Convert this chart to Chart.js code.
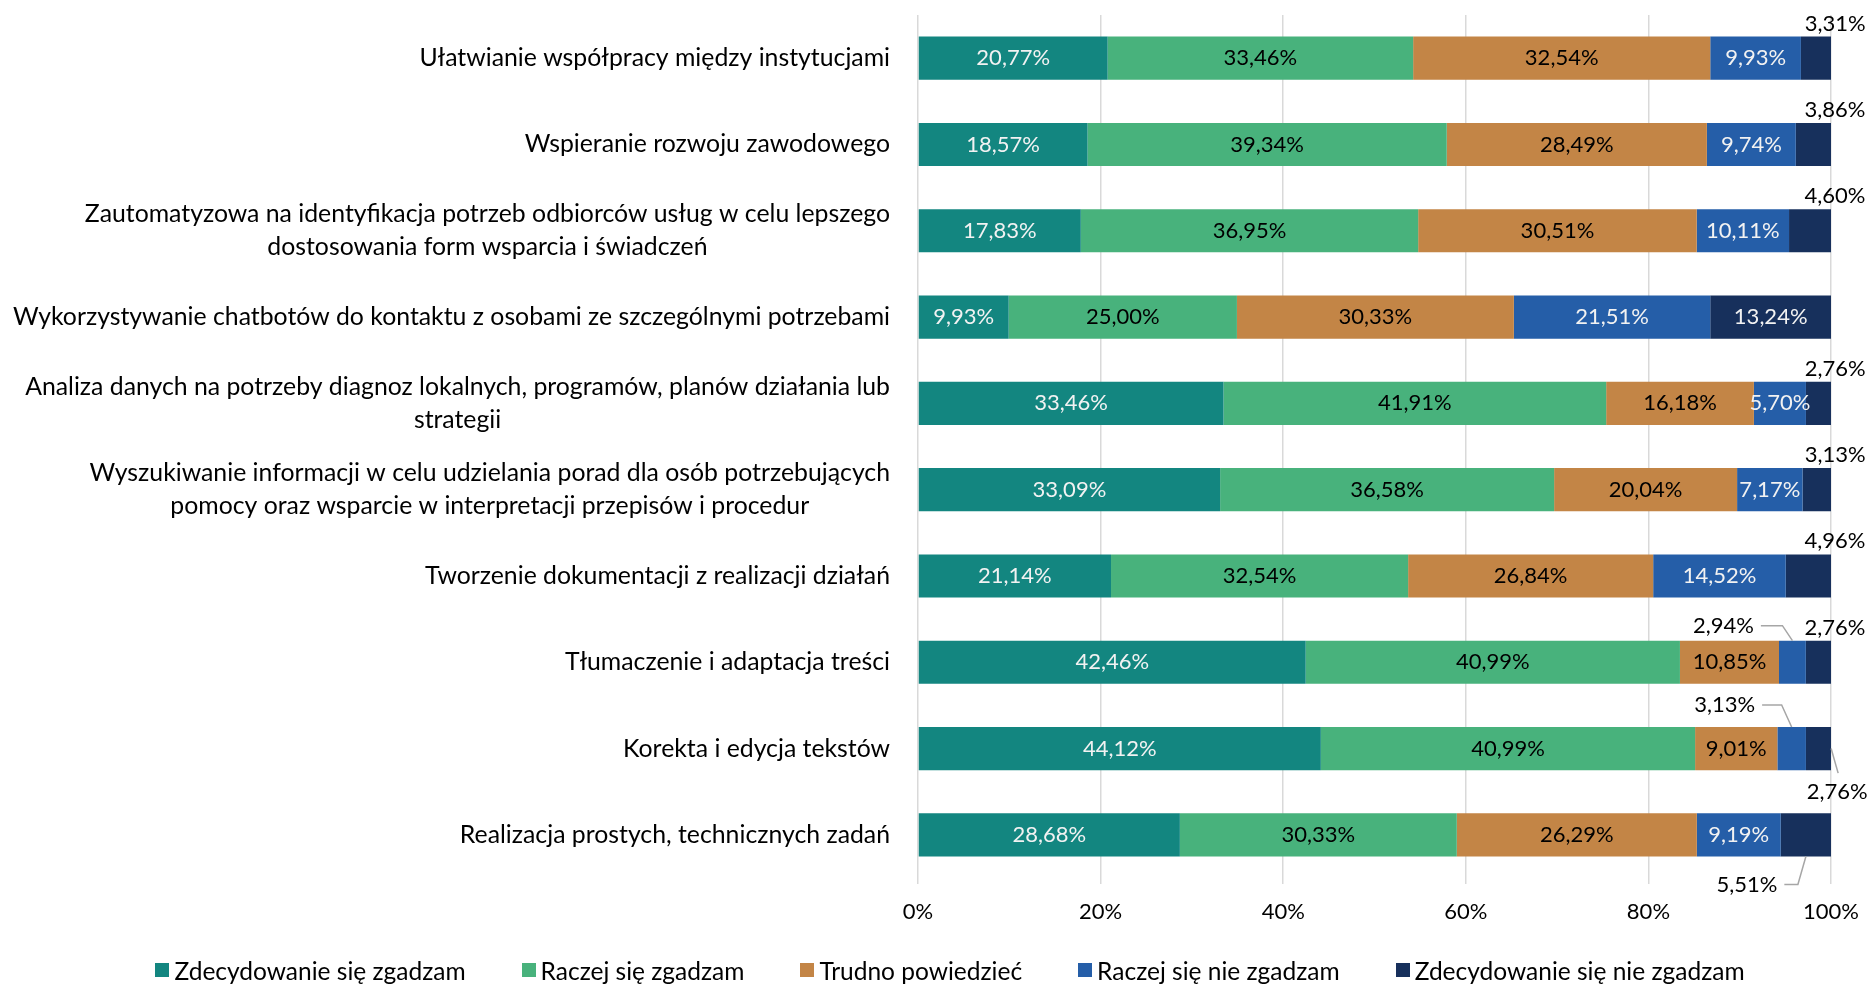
<!DOCTYPE html>
<html>
<head>
<meta charset="utf-8">
<script src="https://cdn.jsdelivr.net/npm/chart.js@4.4.1/dist/chart.umd.min.js"></script>
<style>
  html, body { margin: 0; padding: 0; background: #fff; }
  #wrap { position: relative; width: 1874px; height: 986px; }
  canvas { display: block; }
  #legend {
    position: absolute; left: 26px; right: 0; top: 956px; height: 28px;
    display: flex; justify-content: center; align-items: center; gap: 56px;
    font: 24.5px Lato, "Open Sans", sans-serif; color: #000; white-space: nowrap;
  }
  #legend .item { display: flex; align-items: center; }
  #legend .box { width: 14px; height: 14px; margin-right: 5px; }
</style>
</head>
<body>
<div id="wrap">
  <canvas id="chart" width="1874" height="986"></canvas>
  <div id="legend"></div>
</div>
<script>
// kategorie (wiele linii = tablica)
const categories = [
    ['Ułatwianie współpracy między instytucjami'],
    ['Wspieranie rozwoju zawodowego'],
    ['Zautomatyzowa na identyfikacja potrzeb odbiorców usług w celu lepszego', 'dostosowania form wsparcia i świadczeń'],
    ['Wykorzystywanie chatbotów do kontaktu z osobami ze szczególnymi potrzebami'],
    ['Analiza danych na potrzeby diagnoz lokalnych, programów, planów działania lub', 'strategii'],
    ['Wyszukiwanie informacji w celu udzielania porad dla osób potrzebujących', 'pomocy oraz wsparcie w interpretacji przepisów i procedur'],
    ['Tworzenie dokumentacji z realizacji działań'],
    ['Tłumaczenie i adaptacja treści'],
    ['Korekta i edycja tekstów'],
    ['Realizacja prostych, technicznych zadań']
];

const seriesNames = ['Zdecydowanie się zgadzam', 'Raczej się zgadzam', 'Trudno powiedzieć', 'Raczej się nie zgadzam', 'Zdecydowanie się nie zgadzam'];

const zdecydowanieTak = [20.77, 18.57, 17.83, 9.93, 33.46, 33.09, 21.14, 42.46, 44.12, 28.68];
const raczejTak       = [33.46, 39.34, 36.95, 25.00, 41.91, 36.58, 32.54, 40.99, 40.99, 30.33];
const trudno          = [32.54, 28.49, 30.51, 30.33, 16.18, 20.04, 26.84, 10.85, 9.01, 26.29];
const raczejNie       = [9.93, 9.74, 10.11, 21.51, 5.70, 7.17, 14.52, 2.94, 3.13, 9.19];
const zdecydowanieNie = [3.31, 3.86, 4.60, 13.24, 2.76, 3.13, 4.96, 2.76, 2.76, 5.51];

const xTicks = [0, 20, 40, 60, 80, 100];

const colors = ['#138680', '#48b27c', '#c38546', '#255ea8', '#17305c'];
const labelColors = ['#f2f2f2', '#000000', '#000000', '#f2f2f2', '#f2f2f2'];
const FONT = 'Lato, "Open Sans", sans-serif';

function fmt(v) { return v.toFixed(2).replace('.', ',') + '%'; }

// etykiety z liniami odniesienia dla małych wartości (klucz: seria:wiersz)
const callouts = {
    '3:7': { type: 'left-top', dx: -69, dy: -15 },
    '3:8': { type: 'left-top', dx: -67, dy: -22 },
    '4:8': { type: 'below-right' },
    '4:9': { type: 'left-bottom', dx: -59, dy: 28 }
};

const categoryLabels = {
    id: 'categoryLabels',
    afterDraw(chart) {
        const ctx = chart.ctx;
        const yScale = chart.scales.y;
        const right = 890;
        ctx.save();
        ctx.font = '24.8px ' + FONT;
        ctx.fillStyle = '#000';
        ctx.textAlign = 'center';
        ctx.textBaseline = 'middle';
        categories.forEach((lines, i) => {
            const y = yScale.getPixelForValue(i);
            const maxW = Math.max(...lines.map(l => ctx.measureText(l).width));
            const cx = right - maxW / 2;
            const lh = 33.5;
            lines.forEach((l, j) => {
                ctx.fillText(l, cx, y + (j - (lines.length - 1) / 2) * lh);
            });
        });
        ctx.restore();
    }
};

const segLabels = {
    id: 'segLabels',
    afterDatasetsDraw(chart) {
        const ctx = chart.ctx;
        ctx.save();
        ctx.font = '22px ' + FONT;
        ctx.textBaseline = 'middle';
        ctx.strokeStyle = '#a6a6a6';
        ctx.lineWidth = 1.5;
        chart.data.datasets.forEach((ds, di) => {
            const meta = chart.getDatasetMeta(di);
            meta.data.forEach((bar, i) => {
                const text = fmt(ds.data[i]);
                const left = Math.min(bar.x, bar.base), right = Math.max(bar.x, bar.base);
                const top = bar.y - bar.height / 2, bottom = bar.y + bar.height / 2;
                const cx = (left + right) / 2;
                const tw = ctx.measureText(text).width;
                const c = callouts[di + ':' + i];
                ctx.textAlign = 'center';
                if (c && c.type === 'left-top') {
                    const lx = cx + c.dx, ly = top + c.dy;
                    ctx.fillStyle = '#000';
                    ctx.fillText(text, lx, ly);
                    ctx.beginPath();
                    ctx.moveTo(lx + tw / 2 + 7, ly);
                    ctx.lineTo(cx - 10, ly);
                    ctx.lineTo(cx, top);
                    ctx.stroke();
                } else if (c && c.type === 'left-bottom') {
                    const lx = cx + c.dx, ly = bottom + c.dy;
                    ctx.fillStyle = '#000';
                    ctx.fillText(text, lx, ly);
                    ctx.beginPath();
                    ctx.moveTo(lx + tw / 2 + 7, ly);
                    ctx.lineTo(cx - 8, ly);
                    ctx.lineTo(cx, bottom);
                    ctx.stroke();
                } else if (c && c.type === 'below-right') {
                    ctx.fillStyle = '#000';
                    ctx.fillText(text, right + 6, bottom + 22);
                    ctx.beginPath();
                    ctx.moveTo(right, bar.y);
                    ctx.lineTo(right + 7, bottom + 3);
                    ctx.stroke();
                } else if (right - left >= 47) {
                    ctx.fillStyle = labelColors[di];
                    ctx.fillText(text, cx, bar.y);
                } else {
                    ctx.fillStyle = '#000';
                    ctx.fillText(text, right + 4, top - 13);
                }
            });
        });
        ctx.restore();
    }
};

const seriesData = [zdecydowanieTak, raczejTak, trudno, raczejNie, zdecydowanieNie];

const chart = new Chart(document.getElementById('chart'), {
    type: 'bar',
    data: {
        labels: categories,
        datasets: seriesNames.map((name, k) => ({
            label: name,
            data: seriesData[k],
            backgroundColor: colors[k],
            borderWidth: 0,
            categoryPercentage: 1,
            barPercentage: 0.5
        }))
    },
    options: {
        indexAxis: 'y',
        responsive: false,
        devicePixelRatio: 1,
        animation: false,
        layout: { autoPadding: false, padding: { left: 26, right: 39, top: 15, bottom: 60 } },
        scales: {
            x: {
                stacked: true,
                min: 0,
                max: 100,
                afterBuildTicks: (s) => { s.ticks = xTicks.map(v => ({ value: v })); },
                afterFit: (s) => { s.height = 48; },
                ticks: {
                    callback: v => v + '%',
                    font: { size: 22, family: FONT },
                    color: '#000',
                    padding: 15
                },
                grid: { color: '#d9d9d9', lineWidth: 1.5, tickLength: 6 },
                border: { display: false }
            },
            y: {
                stacked: true,
                ticks: { display: false },
                grid: { display: false },
                border: { display: false },
                afterFit: (s) => { s.width = 892; }
            }
        },
        plugins: {
            legend: { display: false },
            tooltip: { enabled: false }
        }
    },
    plugins: [categoryLabels, segLabels]
});

// legenda HTML z danych wykresu
document.getElementById('legend').innerHTML = chart.data.datasets.map(ds =>
    `<span class="item"><span class="box" style="background:${ds.backgroundColor}"></span>${ds.label}</span>`
).join('');
</script>
</body>
</html>
